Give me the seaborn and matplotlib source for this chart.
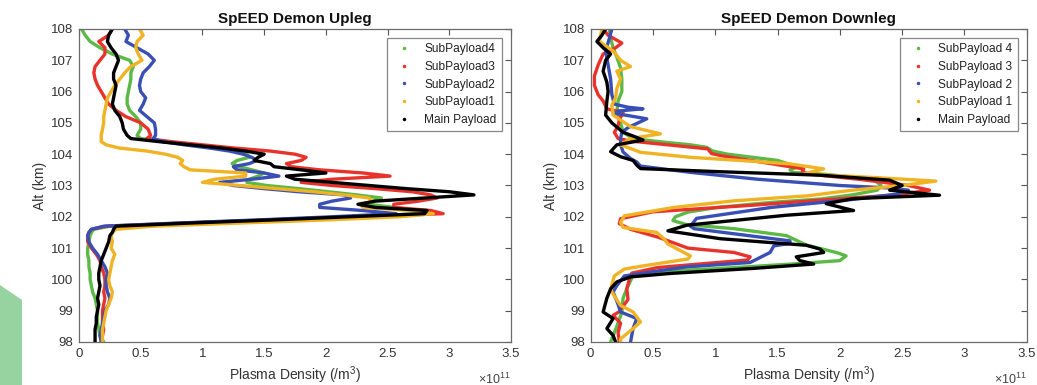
import numpy as np
import pandas as pd
import seaborn as sns
import matplotlib.pyplot as plt
from matplotlib.lines import Line2D
from matplotlib.patches import Polygon

# --- series names / colours (plot order = legend order) ---
up_names = ['SubPayload4', 'SubPayload3', 'SubPayload2', 'SubPayload1', 'Main Payload']
down_names = ['SubPayload 4', 'SubPayload 3', 'SubPayload 2', 'SubPayload 1', 'Main Payload']
colors = ['#5cb946', '#e8322b', '#3a4fb4', '#f0b323', '#000000']

# --- Upleg: shared altitude grid (km), density in 1e11 /m^3 ---
up_alt = [108.0, 107.8, 107.6, 107.4, 107.2, 107.0, 106.8, 106.6, 106.4, 106.2,
          106.0, 105.8, 105.6, 105.4, 105.2, 105.0, 104.8, 104.6,
          104.5, 104.4, 104.3, 104.2, 104.1, 104.0, 103.9, 103.8, 103.7, 103.6,
          103.5, 103.4, 103.3, 103.2, 103.1, 103.0, 102.9, 102.8, 102.7, 102.6,
          102.5, 102.4, 102.3, 102.2, 102.1, 102.0, 101.9, 101.8, 101.7, 101.6,
          101.5, 101.4,
          101.2, 101.0, 100.8, 100.6, 100.4, 100.2, 100.0, 99.8, 99.6, 99.4,
          99.2, 99.0, 98.8, 98.6, 98.4, 98.2, 98.0]

up_sp4 = [0.02, 0.05, 0.09, 0.17, 0.27, 0.41, 0.44, 0.42, 0.42, 0.41,
          0.40, 0.39, 0.39, 0.41, 0.46, 0.50, 0.50, 0.47,
          0.50, 0.70, 0.92, 1.12, 1.28, 1.36, 1.38, 1.28, 1.24, 1.30,
          1.40, 1.50, 1.45, 1.38, 1.36, 1.52, 1.78, 2.02, 2.25, 2.45,
          2.38, 2.35, 2.55, 2.75, 2.78, 2.15, 1.50, 0.85, 0.25, 0.12,
          0.10, 0.09,
          0.08, 0.07, 0.07, 0.08, 0.08, 0.09, 0.09, 0.10, 0.11, 0.13,
          0.14, 0.15, 0.15, 0.15, 0.16, 0.17, 0.20]

up_sp3 = [0.27, 0.24, 0.16, 0.21, 0.21, 0.17, 0.13, 0.12, 0.13, 0.15,
          0.18, 0.21, 0.24, 0.30, 0.38, 0.50, 0.56, 0.58,
          0.55, 0.75, 1.00, 1.25, 1.55, 1.75, 1.84, 1.80, 1.68, 1.72,
          1.95, 2.30, 2.52, 2.05, 1.80, 2.05, 2.40, 2.70, 2.85, 2.90,
          2.75, 2.55, 2.55, 2.85, 2.95, 2.25, 1.55, 0.85, 0.22, 0.10,
          0.08, 0.07,
          0.07, 0.10, 0.14, 0.17, 0.18, 0.20, 0.21, 0.21, 0.20, 0.21,
          0.20, 0.19, 0.19, 0.19, 0.20, 0.19, 0.18]

up_sp2 = [0.37, 0.40, 0.38, 0.47, 0.56, 0.61, 0.57, 0.52, 0.50, 0.49,
          0.50, 0.54, 0.52, 0.49, 0.55, 0.61, 0.62, 0.62,
          0.60, 0.68, 0.85, 1.05, 1.22, 1.33, 1.40, 1.44, 1.38, 1.25,
          1.28, 1.50, 1.62, 1.40, 1.14, 1.25, 1.50, 1.78, 2.15, 2.20,
          2.05, 1.95, 1.95, 2.30, 2.57, 2.05, 1.45, 0.80, 0.20, 0.10,
          0.08, 0.07,
          0.08, 0.11, 0.15, 0.18, 0.21, 0.23, 0.22, 0.22, 0.23, 0.25,
          0.24, 0.21, 0.20, 0.19, 0.18, 0.17, 0.18]

up_sp1 = [0.49, 0.52, 0.47, 0.46, 0.48, 0.51, 0.42, 0.37, 0.33, 0.29,
          0.26, 0.23, 0.22, 0.21, 0.20, 0.20, 0.19, 0.18,
          0.18, 0.18, 0.22, 0.32, 0.55, 0.70, 0.80, 0.84, 0.82, 0.85,
          0.90, 1.35, 1.35, 1.10, 1.00, 1.30, 1.60, 1.90, 2.15, 2.35,
          2.38, 2.28, 2.30, 2.70, 2.87, 2.60, 2.00, 1.30, 0.60, 0.30,
          0.27, 0.26,
          0.27, 0.26, 0.29, 0.27, 0.26, 0.25, 0.24, 0.25, 0.27, 0.26,
          0.24, 0.22, 0.21, 0.20, 0.19, 0.19, 0.19]

up_main = [0.27, 0.24, 0.23, 0.26, 0.30, 0.32, 0.30, 0.28, 0.28, 0.30,
           0.29, 0.28, 0.27, 0.29, 0.33, 0.35, 0.36, 0.39,
           0.42, 0.65, 0.90, 1.15, 1.35, 1.50, 1.45, 1.42, 1.55, 1.58,
           1.80, 2.00, 1.68, 1.75, 2.05, 2.35, 2.65, 3.00, 3.20, 2.80,
           2.40, 2.26, 2.40, 2.82, 2.80, 2.18, 1.57, 0.90, 0.30, 0.28,
           0.27, 0.25,
           0.24, 0.22, 0.20, 0.18, 0.17, 0.16, 0.16, 0.17, 0.16, 0.15,
           0.16, 0.15, 0.14, 0.14, 0.13, 0.13, 0.13]

# --- Downleg: each payload with its own altitude samples ---
dn_alt_sp4 = [108.0, 107.7, 107.4, 107.1, 106.75, 106.4, 106.0, 105.7, 105.35, 105.0,
              104.7, 104.5, 104.4, 104.3, 104.22, 104.1, 104.0, 103.8, 103.6, 103.5,
              103.42, 103.35, 103.2, 103.0, 102.85, 102.7, 102.57, 102.46, 102.3, 102.15,
              102.0, 101.88, 101.75, 101.62, 101.4, 101.1, 100.85, 100.75, 100.6, 100.5,
              100.35, 100.24, 100.13, 99.7, 99.4, 98.95, 98.5, 98.0]
dn_sp4 = [0.15, 0.16, 0.18, 0.21, 0.24, 0.25, 0.25, 0.22, 0.21, 0.24,
          0.26, 0.34, 0.55, 0.80, 0.93, 0.98, 1.10, 1.50, 1.66, 1.60,
          1.62, 1.90, 2.27, 2.33, 2.30, 2.10, 1.85, 1.45, 1.02, 0.78,
          0.68, 0.66, 0.77, 1.15, 1.57, 1.73, 1.98, 2.05, 2.00, 1.65,
          1.04, 0.50, 0.34, 0.29, 0.26, 0.25, 0.21, 0.16]

dn_alt_sp3 = [108.0, 107.8, 107.55, 107.4, 107.2, 106.85, 106.5, 106.2, 105.9, 105.7,
              105.45, 105.33, 105.1, 104.9, 104.7, 104.5, 104.42, 104.17, 104.02, 103.95,
              103.53, 103.45, 103.37, 103.2, 103.0, 102.85, 102.7, 102.53, 102.37, 102.16,
              101.94, 101.78, 101.6, 101.35, 101.0, 100.86, 100.72, 100.62, 100.5, 100.38,
              100.2, 100.0, 99.7, 99.36, 98.97, 98.85, 98.6, 98.3, 98.0]
dn_sp3 = [0.10, 0.14, 0.25, 0.20, 0.10, 0.06, 0.03, 0.03, 0.06, 0.10,
          0.13, 0.26, 0.23, 0.22, 0.19, 0.22, 0.32, 0.94, 0.97, 1.05,
          1.71, 1.70, 1.74, 2.15, 2.55, 2.72, 2.45, 1.84, 1.30, 0.50,
          0.24, 0.23, 0.32, 0.54, 0.78, 1.15, 1.28, 1.26, 0.90, 0.54,
          0.33, 0.31, 0.29, 0.30, 0.23, 0.18, 0.24, 0.22, 0.23]

dn_alt_sp2 = [108.0, 107.7, 107.3, 106.85, 106.4, 105.9, 105.6, 105.5, 105.45, 105.38,
              105.3, 105.2, 105.13, 105.0, 104.85, 104.7, 104.5, 104.3, 104.07, 103.86,
              103.75, 103.62, 103.42, 103.2, 103.0, 102.92, 102.85, 102.72, 102.57, 102.3,
              101.95, 101.7, 101.62, 101.23, 101.15, 101.07, 100.86, 100.54, 100.4, 100.27,
              100.11, 99.8, 99.6, 99.2, 98.96, 98.75, 98.43, 98.0]
dn_sp2 = [0.17, 0.15, 0.12, 0.14, 0.16, 0.17, 0.19, 0.30, 0.42, 0.22,
          0.20, 0.35, 0.45, 0.38, 0.30, 0.25, 0.24, 0.24, 0.26, 0.32,
          0.37, 0.40, 0.80, 1.34, 2.00, 2.40, 2.55, 2.45, 2.14, 1.45,
          0.85, 0.80, 0.83, 1.60, 1.60, 1.47, 1.44, 1.28, 0.77, 0.54,
          0.27, 0.21, 0.18, 0.22, 0.24, 0.37, 0.34, 0.32]

dn_alt_sp1 = [108.0, 107.6, 107.3, 107.0, 106.8, 106.65, 106.4, 106.1, 105.8, 105.57,
              105.25, 104.88, 104.65, 104.5, 104.3, 104.06, 103.9, 103.8, 103.69, 103.53,
              103.37, 103.25, 103.14, 103.0, 102.85, 102.67, 102.51, 102.3, 102.03, 101.82,
              101.66, 101.5, 101.29, 101.13, 100.75, 100.65, 100.45, 100.33, 100.11, 99.68,
              99.4, 99.17, 98.96, 98.64, 98.43, 98.1, 98.0]
dn_sp1 = [0.09, 0.07, 0.18, 0.24, 0.32, 0.21, 0.24, 0.21, 0.20, 0.17,
          0.18, 0.32, 0.56, 0.32, 0.24, 0.40, 0.80, 1.20, 1.60, 1.87,
          1.71, 2.30, 2.77, 2.50, 2.10, 1.74, 1.15, 0.67, 0.27, 0.24,
          0.26, 0.53, 0.59, 0.62, 0.80, 0.78, 0.45, 0.27, 0.19, 0.16,
          0.20, 0.24, 0.34, 0.40, 0.34, 0.24, 0.24]

dn_alt_main = [108.0, 107.8, 107.6, 107.4, 107.2, 107.0, 106.65, 106.3, 106.0, 105.7,
               105.25, 105.0, 104.7, 104.55, 104.45, 104.3, 104.08, 103.92, 103.8, 103.65,
               103.54, 103.44, 103.33, 103.17, 103.0, 102.85, 102.69, 102.58, 102.42, 102.2,
               102.05, 101.73, 101.55, 101.3, 101.09, 100.97, 100.86, 100.72, 100.6, 100.49,
               100.35, 100.19, 100.08, 99.92, 99.7, 99.4, 98.96, 98.75, 98.43, 98.21, 98.0]
dn_main = [0.12, 0.09, 0.05, 0.10, 0.16, 0.12, 0.10, 0.13, 0.14, 0.13,
           0.12, 0.17, 0.26, 0.36, 0.42, 0.21, 0.16, 0.24, 0.34, 0.37,
           0.40, 1.04, 1.84, 2.40, 2.50, 2.40, 2.80, 2.11, 1.89, 2.11,
           1.57, 0.77, 0.62, 1.04, 1.73, 1.84, 1.87, 1.65, 1.68, 1.79,
           1.30, 0.64, 0.32, 0.21, 0.16, 0.13, 0.10, 0.18, 0.13, 0.18, 0.20]


def long_table(names, alts, vals):
    parts = []
    for name, a, v in zip(names, alts, vals):
        parts.append(pd.DataFrame({'payload': name, 'alt': a, 'density': v}))
    return pd.concat(parts, ignore_index=True)


df_up = long_table(up_names, [up_alt] * 5, [up_sp4, up_sp3, up_sp2, up_sp1, up_main])
df_down = long_table(down_names,
                     [dn_alt_sp4, dn_alt_sp3, dn_alt_sp2, dn_alt_sp1, dn_alt_main],
                     [dn_sp4, dn_sp3, dn_sp2, dn_sp1, dn_main])

sns.set_theme(style='white')
plt.rcParams['font.family'] = ['Liberation Sans', 'DejaVu Sans']
plt.rcParams['mathtext.default'] = 'regular'

fig = plt.figure(figsize=(10.37, 3.85), dpi=100)
ax1 = fig.add_axes([0.0762, 0.1117, 0.4166, 0.813])
ax2 = fig.add_axes([0.5696, 0.1117, 0.4205, 0.813])

# light green slide decoration at lower left
W, H = 1037, 385
deco = [(0, 285), (22, 300), (22, 385), (0, 385)]
fig.patches.append(Polygon([(x / W, 1 - y / H) for x, y in deco], closed=True,
                           transform=fig.transFigure, facecolor='#97d3a0',
                           edgecolor='none', zorder=0))

panels = [(ax1, df_up, up_names, 'SpEED Demon Upleg'),
          (ax2, df_down, down_names, 'SpEED Demon Downleg')]

for ax, df, names, title in panels:
    sns.lineplot(data=df, x='density', y='alt', hue='payload', hue_order=names,
                 palette=colors, sort=False, estimator=None, linewidth=2.4,
                 legend=False, ax=ax)
    ax.set_xlim(0, 3.5)
    ax.set_ylim(98, 108)
    ax.set_xticks([0, 0.5, 1, 1.5, 2, 2.5, 3, 3.5])
    ax.set_xticklabels(['0', '0.5', '1', '1.5', '2', '2.5', '3', '3.5'])
    ax.set_yticks(range(98, 109))
    ax.tick_params(direction='in', top=True, right=True, length=4, width=0.8,
                   color='#555555', labelcolor='#333333', labelsize=9.5, pad=4)
    for s in ax.spines.values():
        s.set_color('#6a6a6a')
        s.set_linewidth(0.9)
    ax.set_title(title, fontsize=11, fontweight='bold', pad=4, color='#111111')
    ax.set_xlabel('Plasma Density (/m$^3$)', fontsize=10, color='#333333')
    ax.set_ylabel('Alt (km)', fontsize=10, color='#333333')
    ax.xaxis.set_label_coords(0.5, -0.07)
    ax.yaxis.set_label_coords(-0.074, 0.5)
    ax.text(1.0, -0.094, '×10$^{11}$', transform=ax.transAxes, ha='right', va='top',
            fontsize=9, color='#444444')

    handles = [Line2D([], [], marker='.', linestyle='none', color=c, markersize=3)
               for c in colors]
    leg = ax.legend(handles, names, loc='upper right', bbox_to_anchor=(0.979, 0.972),
                    borderaxespad=0, fontsize=8.6, frameon=True, fancybox=False,
                    handlelength=2.0, handletextpad=0.7, labelspacing=0.48,
                    borderpad=0.45)
    leg.get_frame().set_edgecolor('#6a6a6a')
    leg.get_frame().set_linewidth(0.9)
    for t in leg.get_texts():
        t.set_color('#222222')

fig.savefig('out.png', dpi=100)
